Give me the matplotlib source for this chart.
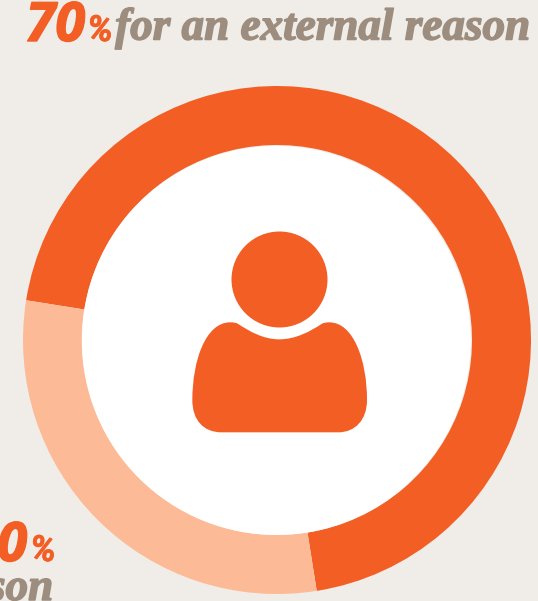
import matplotlib
matplotlib.use("Agg")
import matplotlib.pyplot as plt
from matplotlib.path import Path
from matplotlib.patches import PathPatch, Circle
import matplotlib.patheffects as pe

W, H = 538, 601
values = [70, 30]
numbers = ["70", "30"]
captions = ["for an external reason", "for an internal reason"]
DARK, LIGHT, TAUPE, BG = "#F35E25", "#FDBA96", "#9C8D7F", "#F0EDE8"
SERIF = "Liberation Serif"
SANS = "Open Sans"
PCT = "Roboto"

fig = plt.figure(figsize=(W / 100, H / 100), dpi=100, facecolor=BG)
ax = fig.add_axes([0, 0, 1, 1])
ax.set_facecolor(BG)

def Y(py):
    return H - py

ax.pie(values, colors=[DARK, LIGHT], startangle=171, counterclock=False,
       center=(277, Y(340)), radius=254, frame=True,
       wedgeprops=dict(width=254 - 195, linewidth=0))
ax.add_patch(Circle((276.3, Y(340.5)), 194.5, fc="white", ec="none", zorder=3))

# person icon
ax.add_patch(Circle((279.5, Y(279.5)), 48, fc=DARK, ec="none", zorder=4))
def Z(x, y):
    return (170 + x / 3, Y(220 + y / 3))
verts = [Z(203, 311),
         Z(240, 335), Z(280, 358), Z(328, 358),
         Z(376, 358), Z(420, 335), Z(456, 311),
         Z(463, 308), Z(470, 307), Z(478, 307),
         Z(550, 307), Z(591, 420), Z(591, 540),
         Z(591, 600), Z(555, 637), Z(505, 637),
         Z(155, 637),
         Z(100, 637), Z(67, 600), Z(67, 540),
         Z(67, 420), Z(108, 307), Z(180, 307),
         Z(190, 307), Z(197, 308), Z(203, 311),
         Z(203, 311)]
codes = [Path.MOVETO] + [Path.CURVE4] * 15 + [Path.LINETO] + [Path.CURVE4] * 9 + [Path.CLOSEPOLY]
ax.add_patch(PathPatch(Path(verts, codes), fc=DARK, ec="none", zorder=4))

ax.set_xlim(0, W)
ax.set_ylim(0, H)
ax.set_aspect("auto")
ax.axis("off")

bi = dict(style="italic", weight="bold")
def heavy(color, w):
    return [pe.withStroke(linewidth=w, foreground=color)]

ax.text(85, Y(41), numbers[0], color=DARK, family=SANS, fontsize=39, ha="right", va="baseline",
        path_effects=heavy(DARK, 1.0), **bi)
ax.text(87, Y(41), "%", color=DARK, family=PCT, fontsize=26, ha="left", va="baseline",
        path_effects=heavy(DARK, 0.5), **bi)
ax.text(530, Y(39.5), captions[0], color=TAUPE, family=SERIF, fontsize=32.5, ha="right", va="baseline",
        path_effects=heavy(TAUPE, 1.1), **bi)

ax.text(27, Y(561), numbers[1], color=DARK, family=SANS, fontsize=39, ha="right", va="baseline",
        path_effects=heavy(DARK, 1.0), **bi)
ax.text(30, Y(561), "%", color=DARK, family=PCT, fontsize=26, ha="left", va="baseline",
        path_effects=heavy(DARK, 0.5), **bi)
ax.text(53, Y(600), captions[1], color=TAUPE, family=SERIF, fontsize=32.5, ha="right", va="baseline",
        path_effects=heavy(TAUPE, 1.1), **bi)

fig.savefig("out.png", dpi=100, facecolor=BG)
